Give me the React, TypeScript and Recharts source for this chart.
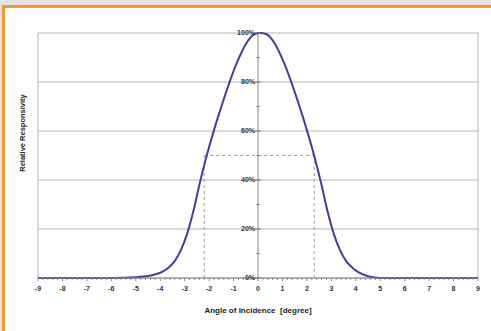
import { LineChart, Line, XAxis, YAxis, CartesianGrid, ReferenceLine, ReferenceDot } from 'recharts'

// angle of incidence [degree]
const angles = [-9, -6, -5, -4.4, -3.9, -3.65, -3.4, -3.15, -2.9, -2.65, -2.4, -2.15, -1.9, -1.4, -0.9, -0.4, -0.15, 0.1, 0.35, 0.6, 1.1, 1.6, 2.1, 2.35, 2.6, 2.85, 3.1, 3.35, 3.6, 3.85, 4.1, 4.5, 5, 6, 9]
// relative responsivity [%]
const response = [0, 0, 0.3, 1, 2.6, 4.3, 7, 11.5, 18, 27, 38, 48, 57, 73, 87, 97, 99.5, 100, 99.5, 97, 87, 73, 57, 48, 38, 27, 18, 11.5, 7, 4.3, 2.4, 0.7, 0, 0, 0]

const xTicks = [-9, -8, -7, -6, -5, -4, -3, -2, -1, 0, 1, 2, 3, 4, 5, 6, 7, 8, 9]
const yTicks = [0, 20, 40, 60, 80, 100]
const yMinor = [10, 30, 50, 70, 90]
const halfWidth = [-2.2, 2.3]

const data = angles.map((a, i) => ({ angle: a, resp: response[i] }))
// minor ticks every 0.2 degree
const allXTicks = xTicks.flatMap((t) => (t < 9 ? [t, t + 0.2, t + 0.4, t + 0.6, t + 0.8] : [t]))

const font = '"Liberation Sans", Arial, sans-serif'
const gridColor = '#bdb3ab'

const tickMark = (len: number) => (props: any) => (
  <line x1={props.cx - len} x2={props.cx + len} y1={props.cy} y2={props.cy} stroke="#777" strokeWidth={1} />
)

const XTick = (props: any) => {
  const v = props.payload.value
  const major = Math.abs(v - Math.round(v)) < 1e-6
  return (
    <g>
      <line x1={props.x} x2={props.x} y1={props.y} y2={props.y + (major ? 3 : 2)} stroke="#888" />
      {major && (
        <text x={props.x} y={props.y + 13} textAnchor="middle" style={{ fontSize: 7, fontFamily: font, fontWeight: 'bold', fill: '#333' }}>
          {Math.round(v)}
        </text>
      )}
    </g>
  )
}

export default function App() {
  return (
    <div style={{ position: 'absolute', left: 0, top: 0, width: 491, height: 331, background: '#e4e4e4', overflow: 'hidden' }}>
      <div style={{ position: 'absolute', left: 2, top: 5, width: 520, height: 360, border: '3px solid #f39a2e', background: '#fff' }} />
      <div style={{ position: 'absolute', left: 0, top: 0 }}>
        <LineChart width={491} height={331} data={data} margin={{ top: 33, right: 13, bottom: 23, left: 38 }}>
          <CartesianGrid vertical={false} stroke={gridColor} horizontalValues={yTicks} />
          <XAxis
            type="number"
            dataKey="angle"
            domain={[-9, 9]}
            ticks={allXTicks}
            interval={0}
            height={30}
            stroke="#888"
            tickLine={false}
            tickSize={0}
            tickMargin={0}
            tick={<XTick />}
            label={{ value: 'Angle of Incidence\u00a0 [degree]', position: 'insideBottom', offset: -5, style: { fontSize: 8, fontFamily: font, fontWeight: 'bold', fill: '#222' } }}
          />
          <YAxis hide type="number" domain={[0, 100]} ticks={yTicks} />
          <ReferenceLine x={-9} stroke={gridColor} />
          <ReferenceLine x={9} stroke={gridColor} />
          <ReferenceLine segment={[{ x: 0, y: 0 }, { x: 0, y: 100 }]} stroke="#888" />
          <ReferenceLine segment={[{ x: halfWidth[0], y: 0 }, { x: halfWidth[0], y: 50 }]} stroke="#999" strokeDasharray="3 3" />
          <ReferenceLine segment={[{ x: halfWidth[1], y: 0 }, { x: halfWidth[1], y: 50 }]} stroke="#999" strokeDasharray="3 3" />
          <ReferenceLine segment={[{ x: halfWidth[0], y: 50 }, { x: halfWidth[1], y: 50 }]} stroke="#999" strokeDasharray="3 3" />
          {yMinor.map((v) => (
            <ReferenceDot key={'m' + v} x={0} y={v} r={0} shape={tickMark(1.5)} />
          ))}
          {yTicks.map((v) => (
            <ReferenceDot
              key={'t' + v}
              x={0}
              y={v}
              r={0}
              shape={tickMark(3)}
              label={{ value: v + '%', position: 'left', offset: 3, style: { fontSize: 7, fontFamily: font, fontWeight: 'bold', fill: '#333' } }}
            />
          ))}
          <Line type="monotone" dataKey="resp" stroke="#4a3c9e" strokeWidth={2} dot={false} isAnimationActive={false} />
          <text x={22} y={133} transform="rotate(-90 22 133)" textAnchor="middle" dominantBaseline="central" style={{ fontSize: 7.5, fontFamily: font, fontWeight: 'bold', fill: '#222' }}>
            Relative Responsivity
          </text>
        </LineChart>
      </div>
    </div>
  )
}
